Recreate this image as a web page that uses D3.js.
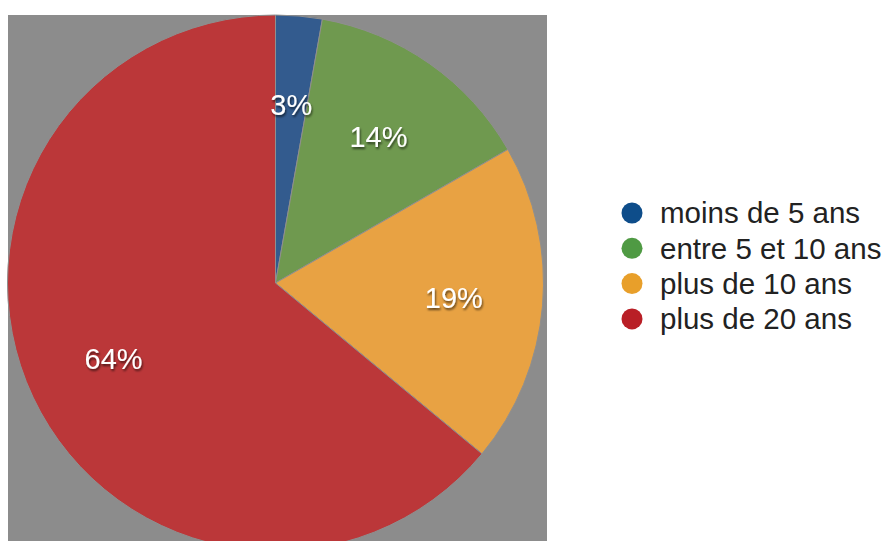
<!DOCTYPE html>
<html>
<head>
<meta charset="utf-8">
<script src="https://cdn.jsdelivr.net/npm/d3@7/dist/d3.min.js"></script>
<style>
  html, body { margin: 0; padding: 0; background: #ffffff; }
  svg { display: block; }
</style>
</head>
<body>
<svg id="chart" width="883" height="541"></svg>
<script>
const categories = ["moins de 5 ans", "entre 5 et 10 ans", "plus de 10 ans", "plus de 20 ans"];
const values = [2.8, 13.9, 19.3, 64.0];
const labels = ["3%", "14%", "19%", "64%"];
const sliceColors = ["#335b8e", "#6f994f", "#e8a243", "#bb3739"];
const legendColors = ["#0e4d8a", "#4f9a43", "#e89f2a", "#b91f26"];

const svg = d3.select("#chart");
const W = 883, H = 541;

const defs = svg.append("defs");
const f = defs.append("filter").attr("id", "shadow")
  .attr("x", "-20%").attr("y", "-20%").attr("width", "140%").attr("height", "160%");
f.append("feDropShadow").attr("dx", 1).attr("dy", 2).attr("stdDeviation", 1.3)
  .attr("flood-color", "#000").attr("flood-opacity", 0.6);

// gray plot background
svg.append("rect").attr("x", 8).attr("y", 15).attr("width", 539).attr("height", H - 15)
  .attr("fill", "#8c8c8c");

const cx = 275.5, cy = 283, R = 268;
const data = categories.map((c, i) => ({ cat: c, value: values[i], label: labels[i], i }));
const pie = d3.pie().value(d => d.value).sort(null);
const arcs = pie(data);
const arc = d3.arc().innerRadius(0).outerRadius(R);
const labelArc = d3.arc().innerRadius(179).outerRadius(179);

const g = svg.append("g").attr("transform", `translate(${cx},${cy})`);
g.selectAll("path.slice").data(arcs).join("path")
  .attr("class", "slice")
  .attr("d", arc)
  .attr("fill", d => sliceColors[d.data.i])
  .attr("stroke", "#8f8f8f")
  .attr("stroke-width", 1);

g.selectAll("text.lbl").data(arcs).join("text")
  .attr("class", "lbl")
  .attr("transform", d => `translate(${labelArc.centroid(d)})`)
  .attr("text-anchor", "middle")
  .attr("dy", "0.35em")
  .attr("font-family", "'Liberation Sans', Arial, Helvetica, sans-serif")
  .attr("font-size", 29)
  .attr("fill", "#ffffff")
  .attr("filter", "url(#shadow)")
  .text(d => d.data.label);

// legend
const lg = svg.append("g").attr("transform", "translate(632,213)");
const items = lg.selectAll("g.item").data(data).join("g")
  .attr("class", "item")
  .attr("transform", (d, i) => `translate(0,${i * 35.3})`);
items.append("circle").attr("r", 10.5).attr("fill", d => legendColors[d.i]);
items.append("text")
  .attr("x", 28).attr("dy", "0.35em")
  .attr("font-family", "'Liberation Sans', Arial, Helvetica, sans-serif")
  .attr("font-size", 29.5)
  .attr("fill", "#222222")
  .text(d => d.cat);
</script>
</body>
</html>
